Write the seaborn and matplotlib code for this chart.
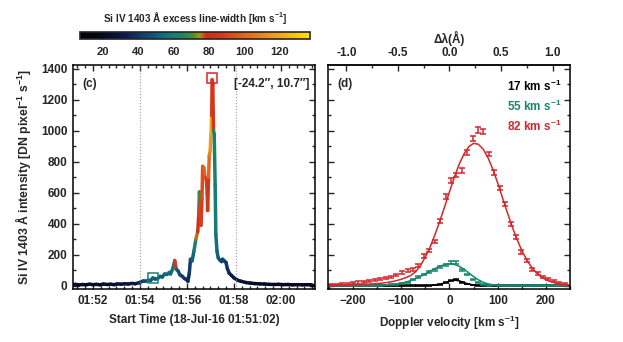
import numpy as np
import pandas as pd
import matplotlib
matplotlib.use('Agg')
import matplotlib.pyplot as plt
import seaborn as sns
from matplotlib.collections import LineCollection
from matplotlib.colors import LinearSegmentedColormap, Normalize
from matplotlib.ticker import MultipleLocator, FixedLocator, FormatStrFormatter

sns.set_theme(style='ticks', context='paper')
plt.rcParams['font.family'] = ['Liberation Sans', 'DejaVu Sans']
plt.rcParams['font.weight'] = 'bold'
plt.rcParams['font.size'] = 8.5
plt.rcParams['axes.labelsize'] = 8.5
plt.rcParams['axes.labelweight'] = 'bold'
plt.rcParams['axes.titleweight'] = 'bold'
plt.rcParams['xtick.labelsize'] = 8.5
plt.rcParams['ytick.labelsize'] = 8.5
plt.rcParams['mathtext.fontset'] = 'custom'
plt.rcParams['mathtext.rm'] = 'Liberation Sans:bold'
plt.rcParams['mathtext.default'] = 'rm'
plt.rcParams['axes.linewidth'] = 1.1

# ---- panel (c): light curve, minutes after 01:51:00 ----
t_min = [0.10, 0.25, 0.40, 0.55, 0.70, 0.85, 1.00, 1.15, 1.30, 1.45,
         1.60, 1.75, 1.90, 2.05, 2.20, 2.35, 2.50, 2.65, 2.80, 2.95,
         3.05, 3.15, 3.25, 3.35, 3.45, 3.55, 3.65, 3.75, 3.85, 3.95,
         4.05, 4.15, 4.25, 4.30, 4.40, 4.48, 4.55, 4.62, 4.70, 4.80,
         4.90, 4.98, 5.04, 5.10, 5.15, 5.22, 5.30, 5.38, 5.46, 5.50,
         5.53, 5.57, 5.60, 5.64, 5.67, 5.72, 5.77, 5.82, 5.86, 5.88,
         5.92, 5.95, 5.99, 6.02, 6.05, 6.07, 6.10, 6.13, 6.16, 6.20,
         6.23, 6.28, 6.33, 6.40, 6.47, 6.52, 6.58, 6.66, 6.72, 6.80,
         6.90, 7.00, 7.15, 7.30, 7.50, 7.70, 7.90, 8.10, 8.30, 8.50,
         8.70, 8.90, 9.10, 9.30, 9.50, 9.70, 9.90, 10.10, 10.30, 10.45]
intensity = [5, 8, 4, 7, 5, 9, 6, 8, 5, 10,
             7, 9, 6, 11, 9, 12, 10, 14, 12, 18,
             25, 30, 28, 35, 32, 50, 42, 45, 60, 55,
             75, 72, 85, 75, 110, 162, 105, 95, 70, 60,
             45, 40, 28, 80, 170, 160, 225, 300, 350, 450,
             605, 520, 390, 560, 770, 760, 700, 690, 600, 485,
             700, 840, 870, 980, 1100, 1330, 1300, 1000, 980, 650,
             330, 220, 180, 165, 155, 170, 160, 150, 110, 80,
             65, 50, 35, 28, 20, 16, 13, 11, 10, 8,
             7, 8, 6, 7, 5, 6, 5, 6, 5, 5]
line_width = [22, 25, 20, 24, 21, 26, 22, 25, 20, 27,
              23, 26, 24, 28, 25, 29, 27, 31, 30, 36,
              40, 44, 46, 48, 50, 52, 50, 48, 52, 50,
              55, 53, 56, 54, 58, 78, 52, 48, 45, 42,
              40, 38, 36, 42, 48, 52, 62, 76, 80, 88,
              68, 70, 88, 92, 96, 98, 93, 88, 82, 78,
              100, 108, 115, 122, 90, 86, 84, 65, 62, 60,
              55, 52, 50, 48, 46, 45, 43, 41, 38, 35,
              32, 30, 28, 26, 24, 23, 22, 22, 21, 22,
              20, 21, 20, 21, 20, 21, 20, 21, 20, 20]
tick_times = [1, 3, 5, 7, 9]
tick_names = ['01:52', '01:54', '01:56', '01:58', '02:00']
dotted_times = [3.02, 7.10]
green_box = (3.55, 50)
red_box = (6.07, 1340)

# ---- panel (d): line profiles ----
vel = [-245, -234, -222, -211, -200, -189, -177, -166, -155, -144,
       -132, -121, -110, -98, -87, -76, -65, -53, -42, -31,
       -20, -8, 3, 14, 25, 37, 48, 59, 70, 82,
       93, 104, 115, 127, 138, 149, 160, 172, 183, 194,
       205, 217, 228, 239]
red_obs = [5, 7, 10, 13, 16, 20, 24, 29, 36, 42,
           48, 56, 68, 86, 95, 105, 130, 190, 225, 285,
           415, 575, 680, 715, 745, 860, 950, 1005, 995, 850,
           730, 630, 525, 400, 313, 216, 160, 105, 77, 57,
           42, 27, 16, 10]
red_err = [5, 5, 6, 6, 6, 7, 7, 7, 7, 8,
           8, 8, 8, 9, 9, 9, 10, 11, 11, 12,
           13, 14, 15, 15, 15, 16, 17, 17, 17, 16,
           15, 15, 14, 13, 12, 11, 10, 9, 9, 8,
           8, 7, 6, 6]
teal_obs = [0, 0, 0, 0, 0, 0, 0, 1, 2, 2,
            4, 6, 8, 12, 19, 40, 57, 72, 86, 103,
            121, 133, 150, 150, 103, 72, 40, 20, 6, 3,
            3, 2, 1, 2, 1, 0, 1, 0, 0, 0,
            0, 0, 0, 0]
teal_err = [2, 2, 2, 2, 2, 2, 2, 2, 2, 2,
            3, 3, 3, 3, 4, 5, 6, 6, 7, 7,
            8, 8, 8, 8, 7, 6, 5, 4, 3, 3,
            2, 2, 2, 2, 2, 2, 2, 2, 2, 2,
            2, 2, 2, 2]
black_obs = [0, 0, 0, 0, 0, 0, 0, 0, 0, 0,
             0, 0, 0, 0, 0, 0, 0, 0, 1, 3,
             7, 18, 33, 38, 22, 10, 4, 1, 0, 0,
             0, 0, 0, 0, 0, 0, 0, 0, 0, 0,
             0, 0, 0, 0]
black_err = [1, 1, 1, 1, 1, 1, 1, 1, 1, 1,
             1, 1, 1, 1, 1, 1, 1, 1, 1, 2,
             2, 3, 4, 4, 3, 2, 2, 1, 1, 1,
             1, 1, 1, 1, 1, 1, 1, 1, 1, 1,
             1, 1, 1, 1]

vel_fit = [-250, -240, -230, -220, -210, -200, -190, -180, -170, -160,
           -150, -140, -130, -120, -110, -100, -90, -80, -70, -60,
           -50, -40, -30, -20, -10, 0, 10, 20, 30, 40,
           50, 60, 70, 80, 90, 100, 110, 120, 130, 140,
           150, 160, 170, 180, 190, 200, 210, 220, 230, 240, 250]
red_fit = [2, 2, 3, 3, 4, 5, 6, 7, 9, 11,
           13, 16, 20, 25, 32, 41, 52, 66, 90, 130,
           185, 250, 330, 417, 510, 606, 699, 783, 850, 897,
           919, 913, 881, 825, 751, 663, 567, 472, 381, 299,
           227, 168, 120, 84, 57, 38, 25, 16, 10, 6, 4]
teal_fit = [0, 0, 0, 0, 0, 0, 0, 0, 0, 1,
            1, 3, 5, 7, 11, 16, 23, 33, 45, 60,
            76, 93, 110, 125, 136, 141, 137, 125, 106, 82,
            58, 37, 21, 11, 5, 2, 1, 0, 0, 0,
            0, 0, 0, 0, 0, 0, 0, 0, 0, 0, 0]
black_fit = [0, 0, 0, 0, 0, 0, 0, 0, 0, 0,
             0, 0, 0, 0, 0, 0, 0, 0, 0, 0,
             0, 1, 3, 8, 17, 28, 35, 31, 20, 10,
             4, 1, 0, 0, 0, 0, 0, 0, 0, 0,
             0, 0, 0, 0, 0, 0, 0, 0, 0, 0, 0]
labels_d = ['17 km s$^{-1}$', '55 km s$^{-1}$', '82 km s$^{-1}$']
dlam_ticks = [-1.0, -0.5, 0.0, 0.5, 1.0]
dlam_minor = [-1.25, -0.75, -0.25, 0.25, 0.75]
cbar_ticks = [20, 40, 60, 80, 100, 120]

RED = '#d6262b'
TEAL = '#16866d'

# colour table like the IDL one: black-navy-teal-green-red-orange-yellow
cmap = LinearSegmentedColormap.from_list('lw', [
    (0.00, '#000000'), (0.10, '#05081e'), (0.20, '#0b1d50'),
    (0.30, '#124a78'), (0.38, '#137483'), (0.45, '#1a8a5e'),
    (0.49, '#4c8c2a'), (0.52, '#a09a18'), (0.55, '#d02a1c'),
    (0.62, '#d83a1c'), (0.70, '#e0601c'), (0.80, '#ea8a1e'),
    (0.90, '#f2b41a'), (1.00, '#ffe200')])
norm = Normalize(7, 137)

fig = plt.figure(figsize=(6.23, 3.42), dpi=100)
ax1 = fig.add_axes([73/623, 53/342, 242/623, 224/342])
ax2 = fig.add_axes([328/623, 53/342, 242/623, 224/342])
cax = fig.add_axes([80/623, 303/342, 230/623, 7/342])

# colored light curve
pts = np.column_stack([t_min, intensity])
segs = np.stack([pts[:-1], pts[1:]], axis=1)
lc = LineCollection(segs, cmap=cmap, norm=norm, linewidths=2.5, capstyle='round')
lc.set_array(np.array(line_width[:-1]))
ax1.add_collection(lc)
for tv in dotted_times:
    ax1.axvline(tv, color='#999999', ls=':', lw=0.8)
ax1.plot(*green_box, marker='s', ms=7, mfc='none', mec=TEAL, mew=1.1)
ax1.plot(*red_box, marker='s', ms=7, mfc='none', mec=RED, mew=1.1)
ax1.set_xlim(0.15, 10.45)
ax1.set_ylim(-22, 1425)
ax1.set_xticks(tick_times)
ax1.set_xticklabels(tick_names)
ax1.xaxis.set_minor_locator(MultipleLocator(1/3))
ax1.yaxis.set_major_locator(MultipleLocator(200))
ax1.yaxis.set_minor_locator(MultipleLocator(100))
ax1.set_xlabel('Start Time (18-Jul-16 01:51:02)', labelpad=5)
ax1.set_ylabel('Si IV 1403 Å intensity [DN pixel$^{-1}$ s$^{-1}$]', labelpad=6, fontsize=8.8)
ax1.text(0.04, 0.94, '(c)', transform=ax1.transAxes, va='top', ha='left')
ax1.text(0.975, 0.94, '[-24.2″, 10.7″]', transform=ax1.transAxes, va='top', ha='right')

# profiles
for obs, err, fit, col in [(black_obs, black_err, black_fit, 'black'),
                           (teal_obs, teal_err, teal_fit, TEAL),
                           (red_obs, red_err, red_fit, RED)]:
    ax2.errorbar(vel, obs, yerr=err, fmt='none', ecolor=col, elinewidth=1.1,
                 capsize=2.5, capthick=1.1)
    sns.lineplot(x=vel_fit, y=fit, color=col, lw=1.1, ax=ax2)
ax2.set_xlim(-252, 250)
ax2.set_ylim(-22, 1425)
ax2.xaxis.set_major_locator(MultipleLocator(100))
ax2.xaxis.set_minor_locator(MultipleLocator(50))
ax2.yaxis.set_major_locator(MultipleLocator(200))
ax2.yaxis.set_minor_locator(MultipleLocator(100))
ax2.set_yticklabels([])
ax2.set_xlabel('Doppler velocity [km s$^{-1}$]', labelpad=5)
ax2.text(0.04, 0.94, '(d)', transform=ax2.transAxes, va='top', ha='left')
for i, (lab, col) in enumerate(zip(labels_d, ['black', TEAL, RED])):
    ax2.text(0.965, 0.94 - i * 0.09, lab, transform=ax2.transAxes, va='top', ha='right',
             color=col)

lam0 = 1402.77
c_kms = 299792.458
top = ax2.secondary_xaxis('top', functions=(lambda v: v * lam0 / c_kms,
                                            lambda d: d * c_kms / lam0))
top.xaxis.set_major_locator(FixedLocator(dlam_ticks))
top.xaxis.set_minor_locator(FixedLocator(dlam_minor))
top.xaxis.set_major_formatter(FormatStrFormatter('%.1f'))
top.set_xlabel('Δλ(Å)', labelpad=3)
top.tick_params(which='both', direction='in', width=1.0, pad=4)
top.tick_params(which='major', length=4)
top.tick_params(which='minor', length=2)

for ax in (ax1, ax2):
    ax.tick_params(which='both', direction='in', width=1.0, pad=4,
                   right=True, top=(ax is ax1))
    ax.tick_params(which='major', length=4)
    ax.tick_params(which='minor', length=2)
    for s in ax.spines.values():
        s.set_linewidth(1.1)
        s.set_color('black')

sm = matplotlib.cm.ScalarMappable(norm=norm, cmap=cmap)
cb = fig.colorbar(sm, cax=cax, orientation='horizontal')
cb.set_ticks(cbar_ticks)
cb.outline.set_linewidth(1.2)
cax.tick_params(direction='in', length=2, width=0.8, pad=6, labelsize=8)
cax.set_title('Si IV 1403 Å excess line-width [km s$^{-1}$]', fontsize=7.2,
              fontweight='bold', pad=7)

fig.savefig('out.png', dpi=100, facecolor='white')
